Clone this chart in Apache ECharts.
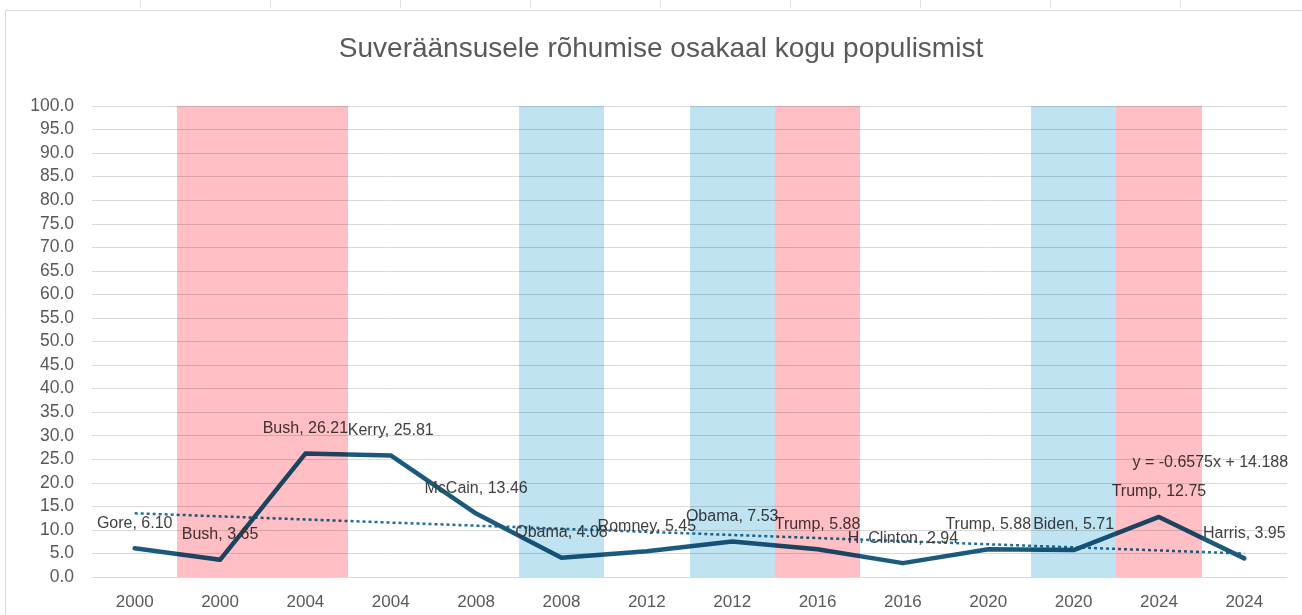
<!DOCTYPE html>
<html>
<head>
<meta charset="utf-8">
<script src="https://cdn.jsdelivr.net/npm/echarts@6/dist/echarts.min.js"></script>
<style>
html,body{margin:0;padding:0;background:#fff;}
#chart{width:1302px;height:615px;background:#fff;isolation:isolate;}
</style>
</head>
<body>
<div id="chart"></div>
<script>
// ---- data ----
const years = ['2000','2000','2004','2004','2008','2008','2012','2012','2016','2016','2020','2020','2024','2024'];
const candidates = ['Gore','Bush','Bush','Kerry','McCain','Obama','Romney','Obama','Trump','H. Clinton','Trump','Biden','Trump','Harris'];
const shares = [6.10, 3.65, 26.21, 25.81, 13.46, 4.08, 5.45, 7.53, 5.88, 2.94, 5.88, 5.71, 12.75, 3.95];
// winner shading per category: R = Republican win, D = Democratic win, '' = none
const winners = ['', 'R', 'R', '', '', 'D', '', 'D', 'R', '', '', 'D', 'R', ''];
const bandTop = 100;
const trendStart = 13.53;
const trendEnd = 4.98;
const trendText = 'y = -0.6575x + 14.188';
const yTicks = {min: 0, max: 100, interval: 5};
const titleText = 'Suveräänsusele rõhumise osakaal kogu populismist';

// ---- build ----
const bandData = [];
winners.forEach((w, i) => { if (w) bandData.push([i, bandTop, w]); });
const trendData = shares.map((_, i) => i === 0 ? trendStart : (i === shares.length - 1 ? trendEnd : '-'));

const FONT = '"Liberation Sans", Arial, sans-serif';
const chart = echarts.init(document.getElementById('chart'), null, {renderer: 'canvas'});

const ticks = [];
for (let k = 0; k < 9; k++) {
  ticks.push({type: 'line', silent: true, shape: {x1: 140.5 + k * 130, y1: 0, x2: 140.5 + k * 130, y2: 8}, style: {stroke: '#e0e0e0', lineWidth: 1}});
}

chart.setOption({
  animation: false,
  title: {
    text: titleText,
    left: 656, top: 30, textAlign: 'center',
    textStyle: {fontFamily: FONT, fontSize: 28, fontWeight: 'normal', color: '#595959'}
  },
  grid: {left: 92, right: 15, top: 106, bottom: 38, containLabel: false},
  xAxis: {
    type: 'category',
    data: years,
    boundaryGap: true,
    axisLine: {show: true, lineStyle: {color: '#d9d9d9', width: 1}},
    axisTick: {show: false},
    axisLabel: {interval: 0, margin: 17, fontFamily: FONT, fontSize: 17, color: '#595959'},
    splitLine: {show: false}
  },
  yAxis: {
    type: 'value',
    min: yTicks.min, max: yTicks.max, interval: yTicks.interval,
    axisLine: {show: false},
    axisTick: {show: false},
    axisLabel: {margin: 18, fontFamily: FONT, fontSize: 17.5, color: '#595959', formatter: v => v.toFixed(1)},
    splitLine: {show: true, lineStyle: {color: '#d9d9d9', width: 1}}
  },
  graphic: [
    {type: 'rect', silent: true, z: -10, shape: {x: 5.5, y: 10.5, width: 1310, height: 620}, style: {fill: 'none', stroke: '#d9d9d9', lineWidth: 1}}
  ].concat(ticks),
  series: [
    {
      type: 'line',
      name: 'share',
      data: shares,
      z: 3,
      symbol: 'circle',
      symbolSize: 0.1,
      showSymbol: true,
      lineStyle: {color: '#1c5a7d', width: 4.5, join: 'round', cap: 'round'},
      itemStyle: {color: '#1c5a7d'},
      label: {
        show: true, position: 'top', distance: 17,
        fontFamily: FONT, fontSize: 16, color: '#404040',
        formatter: p => candidates[p.dataIndex] + ', ' + Number(p.value).toFixed(2)
      },
      labelLayout: {hideOverlap: false}
    },
    {
      type: 'line',
      name: 'trend',
      data: trendData,
      connectNulls: true,
      z: 2,
      symbol: 'circle',
      symbolSize: 0.1,
      showSymbol: true,
      itemStyle: {color: '#1f6f99'},
      lineStyle: {color: '#1f6f99', width: 2.5, type: [3, 3], cap: 'butt'},
      label: {
        show: true, position: 'top', distance: 5, offset: [-34, -78],
        fontFamily: FONT, fontSize: 16, color: '#404040',
        formatter: p => p.dataIndex === shares.length - 1 ? trendText : ''
      }
    },
    {
      type: 'custom',
      name: 'bands',
      zlevel: 1,
      z: 10,
      silent: true,
      data: bandData,
      encode: {x: 0, y: 1},
      renderItem: function (params, api) {
        const idx = api.value(0);
        const top = api.coord([idx, api.value(1)]);
        const bottom = api.coord([idx, 0]);
        const w = api.size([1, 0])[0];
        const party = bandData[params.dataIndex][2];
        const x0 = Math.round(top[0] - w / 2);
        const x1 = Math.round(top[0] + w / 2);
        const y0 = Math.round(top[1]);
        const y1 = Math.round(bottom[1]);
        return {
          type: 'rect',
          shape: {x: x0, y: y0, width: x1 - x0, height: y1 - y0},
          style: {fill: party === 'R' ? '#ffbfc4' : '#bfe3f0'}
        };
      }
    }
  ]
});

// the shading bands sit on their own canvas layer, blended with multiply like the original
const canvases = document.querySelectorAll('#chart canvas');
canvases.forEach((c, i) => {
  if (i > 0) c.style.mixBlendMode = 'multiply';
});
</script>
</body>
</html>
